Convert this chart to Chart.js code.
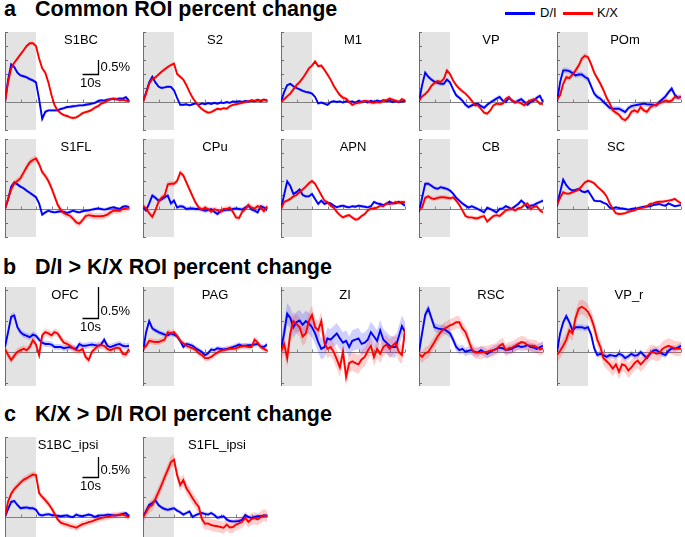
<!DOCTYPE html>
<html>
<head>
<meta charset="utf-8">
<script src="https://cdn.jsdelivr.net/npm/chart.js@4.4.1/dist/chart.umd.min.js"></script>
<style>
  body { margin: 0; background: #fff; }
  #fig { position: relative; width: 685px; height: 537px; overflow: hidden; font-family: "Liberation Sans", Arial, sans-serif; color: #000; }
  .head { position: absolute; font-weight: bold; font-size: 21.5px; line-height: 22px; white-space: nowrap; }
  .key { position: absolute; height: 3px; top: 12px; width: 30px; }
  .keytxt { position: absolute; top: 5px; font-size: 13px; line-height: 16px; }
</style>
</head>
<body>
<div id="fig">
  <div class="head" style="left:4px; top:-2px">a</div>
  <div class="head" style="left:35px; top:-2px">Common ROI percent change</div>
  <div class="head" style="left:3px; top:256px">b</div>
  <div class="head" style="left:35px; top:256px">D/I &gt; K/X ROI percent change</div>
  <div class="head" style="left:4px; top:403px">c</div>
  <div class="head" style="left:35px; top:403px">K/X &gt; D/I ROI percent change</div>
  <div class="key" style="left:505px; background:#0000ff"></div>
  <div class="keytxt" style="left:540px">D/I</div>
  <div class="key" style="left:563px; background:#ff0000"></div>
  <div class="keytxt" style="left:597px">K/X</div>
</div>
<script>
// time axis (s), sampled every 2 s
const time = [0, 2, 4, 6, 8, 10, 12, 14, 16, 18, 20, 22, 24, 26, 28, 30, 32, 34, 36, 38,
  40, 42, 44, 46, 48, 50, 52, 54, 56, 58, 60, 62, 64, 66, 68, 70, 72, 74, 76, 78, 80];
const xTicks = [10, 20, 30, 40, 50, 60, 70, 80];
const stimWindow = [0, 20];

const roiCommon = ['S1BC', 'S2', 'M1', 'VP', 'POm', 'S1FL', 'CPu', 'APN', 'CB', 'SC'];
const roiDI = ['OFC', 'PAG', 'ZI', 'RSC', 'VP_r'];
const roiKX = ['S1BC_ipsi', 'S1FL_ipsi'];

const yRangeA = [-1, 2.5], yTicksA = [-1, -0.5, 0, 0.5, 1, 1.5, 2, 2.5];
const yRangeB = [-0.55, 1.05], yTicksB = [-0.5, 0, 0.5, 1];
const yRangeC = [-0.5, 2.0], yTicksC = [-0.5, 0, 0.5, 1, 1.5, 2];

// percent change, D/I (blue) and K/X (red)
const S1BC_DI = [0, 0.8, 1.35, 1.25, 1.05, 0.95, 0.92, 0.88, 0.82, 0.77, 0.7, 0.1, -0.6, -0.35, -0.3, -0.3, -0.3, -0.3, -0.25, -0.22, -0.18, -0.17, -0.15, -0.14, -0.12, -0.12, -0.1, -0.08, -0.06, -0.03, 0.03, 0.06, 0.05, 0.08, 0.1, 0.12, 0.1, 0.13, 0.12, 0.17, 0.05];
const S1BC_KX = [0, 0.7, 1.2, 1.4, 1.55, 1.7, 1.85, 2.0, 2.1, 2.1, 2.0, 1.55, 1.2, 1.05, 0.7, 0.25, -0.12, -0.3, -0.4, -0.47, -0.5, -0.55, -0.57, -0.55, -0.48, -0.4, -0.36, -0.33, -0.28, -0.2, -0.15, -0.06, -0.02, 0.05, 0.1, 0.12, 0.1, 0.06, 0.08, 0.05, 0.02];
const S2_DI = [0, 0.35, 0.7, 0.9, 0.7, 0.55, 0.5, 0.52, 0.55, 0.54, 0.42, 0.15, -0.1, -0.1, -0.08, -0.12, -0.08, -0.05, -0.1, -0.05, -0.08, -0.04, -0.07, -0.03, -0.06, -0.02, -0.04, 0, -0.03, 0.02, 0, 0.03, 0, 0.04, 0.02, 0.05, 0.03, 0.08, 0.03, 0.08, 0.05];
const S2_KX = [0, 0.3, 0.65, 0.82, 0.88, 0.98, 1.08, 1.17, 1.25, 1.32, 1.37, 1.0, 0.9, 0.8, 0.6, 0.36, 0.15, 0, -0.15, -0.25, -0.33, -0.38, -0.36, -0.3, -0.24, -0.26, -0.22, -0.24, -0.15, -0.1, -0.08, -0.06, -0.03, 0, 0.02, 0.06, 0.04, 0.06, 0.05, 0.08, 0.06];
const M1_DI = [0, 0.35, 0.6, 0.65, 0.56, 0.5, 0.45, 0.4, 0.36, 0.34, 0.3, 0.18, -0.05, -0.02, -0.06, -0.1, 0, 0.03, 0, 0.02, -0.02, 0.03, 0, 0.02, -0.02, 0.04, 0, 0.03, -0.02, 0.04, 0, 0.05, 0.02, 0.06, 0.03, 0.05, 0, 0.03, 0, 0.02, 0.03];
const M1_KX = [0, 0.1, 0.2, 0.3, 0.45, 0.6, 0.71, 0.85, 1.02, 1.2, 1.3, 1.45, 1.28, 1.3, 1.15, 0.98, 0.8, 0.58, 0.4, 0.25, 0.15, 0.12, 0, -0.1, -0.05, -0.03, 0, 0.04, 0.03, -0.02, -0.03, 0, -0.02, 0.05, 0.06, 0.12, 0.08, 0.05, 0, 0.1, 0.05];
const VP_DI = [0, 0.6, 1.05, 0.9, 0.8, 0.72, 0.68, 0.65, 0.65, 0.8, 0.7, 0.45, 0.24, 0.15, 0.05, -0.1, -0.18, -0.12, -0.08, -0.06, -0.15, -0.21, -0.1, -0.02, 0.05, 0.12, 0.18, 0.05, 0, 0.15, 0.05, -0.02, 0.05, 0.1, 0, -0.1, 0, 0.05, 0.15, 0.22, 0];
const VP_KX = [0.05, 0.2, 0.28, 0.4, 0.58, 0.68, 0.75, 0.72, 0.82, 1.13, 1.0, 0.77, 0.6, 0.48, 0.38, 0.3, 0.18, 0.05, -0.12, -0.12, -0.25, -0.38, -0.42, -0.3, -0.12, -0.06, -0.08, -0.06, 0.12, 0.18, 0.05, 0, 0, -0.05, -0.12, 0, 0.06, 0.1, 0.05, -0.06, -0.06];
const POm_DI = [0, 0.71, 1.13, 1.13, 1.1, 1.03, 0.95, 0.98, 0.98, 0.89, 0.83, 0.57, 0.3, 0.18, 0.12, 0, -0.1, -0.21, -0.24, -0.24, -0.24, -0.3, -0.36, -0.22, -0.15, -0.12, -0.1, -0.08, -0.06, -0.08, -0.09, -0.1, -0.12, 0, 0.1, 0.2, 0.35, 0.48, 0.25, 0.15, 0.18];
const POm_KX = [0.1, 0.24, 0.65, 0.89, 0.85, 0.98, 1.13, 1.3, 1.55, 1.65, 1.6, 1.35, 1.05, 0.85, 0.65, 0.42, 0.15, -0.05, -0.3, -0.38, -0.45, -0.6, -0.65, -0.54, -0.35, -0.3, -0.36, -0.18, -0.3, -0.35, -0.2, -0.12, -0.1, -0.05, 0, 0.05, 0.02, 0.05, 0.18, 0.15, 0.18];
const S1FL_DI = [0, 0.35, 0.8, 0.95, 0.88, 0.8, 0.74, 0.65, 0.58, 0.5, 0.42, 0.2, -0.2, -0.12, -0.06, -0.1, -0.12, -0.1, -0.08, -0.1, -0.14, -0.1, -0.06, -0.1, -0.12, -0.08, -0.06, -0.05, -0.02, 0, 0.02, 0, -0.02, 0, 0.04, 0.06, 0.03, 0, 0.08, 0.1, 0.06];
const S1FL_KX = [0, 0.36, 0.7, 0.92, 1.0, 1.1, 1.3, 1.5, 1.67, 1.75, 1.8, 1.6, 1.32, 1.18, 1.0, 0.75, 0.45, 0.15, -0.03, -0.15, -0.2, -0.24, -0.35, -0.48, -0.52, -0.4, -0.25, -0.22, -0.24, -0.26, -0.26, -0.26, -0.24, -0.2, -0.12, -0.06, -0.06, -0.06, 0, 0.02, 0.06];
const CPu_DI = [0.05, -0.05, 0.2, 0.48, 0.4, 0.3, 0.34, 0.42, 0.48, 0.2, 0.3, 0.05, 0.1, 0.08, 0, 0.02, 0.02, 0, 0, -0.02, -0.06, -0.04, 0, -0.1, -0.18, -0.08, -0.05, -0.02, -0.03, 0, 0.02, 0, -0.02, 0.05, 0.12, -0.02, -0.06, -0.12, 0.1, 0.05, -0.05];
const CPu_KX = [0.12, 0.02, -0.15, -0.28, -0.05, 0.25, 0.4, 0.48, 0.88, 0.9, 0.9, 1.0, 1.3, 1.2, 0.95, 0.7, 0.45, 0.22, 0.05, -0.02, 0.05, 0, -0.1, 0, -0.05, -0.1, 0, 0, 0.05, -0.1, -0.3, -0.32, -0.1, 0, 0.15, 0.05, 0.02, 0.1, 0.05, -0.08, 0.1];
const APN_DI = [0, 0.5, 0.99, 0.82, 0.54, 0.6, 0.7, 0.5, 0.45, 0.45, 0.54, 0.36, 0.18, 0.3, 0.18, 0.22, 0.2, 0.12, 0.06, 0.1, 0.12, 0.08, 0.06, 0.1, 0.08, 0.12, 0.1, 0.08, 0.06, 0.1, 0.25, 0.2, 0.18, 0.14, 0.18, 0.26, 0.2, 0.2, 0.26, 0.2, 0.12];
const APN_KX = [0, 0.25, 0.3, 0.36, 0.45, 0.5, 0.6, 0.7, 0.8, 0.92, 1.0, 0.9, 0.7, 0.5, 0.3, 0.24, 0.12, 0.05, -0.1, -0.22, -0.3, -0.25, -0.22, -0.3, -0.38, -0.35, -0.25, -0.18, -0.05, 0.02, 0.02, 0.05, 0.12, 0.1, 0.2, 0.18, 0.2, 0.25, 0.22, 0.25, 0.24];
const CB_DI = [-0.1, 0.4, 0.9, 0.9, 0.83, 0.75, 0.72, 0.78, 0.75, 0.72, 0.66, 0.55, 0.4, 0.3, 0.2, 0.12, 0.05, 0.1, 0.05, 0, -0.06, -0.12, 0.05, 0, -0.06, -0.12, 0, 0.02, 0.1, 0.05, 0, 0.1, 0.18, 0.3, 0.2, 0.05, 0.12, 0.14, 0.2, 0.25, 0.3];
const CB_KX = [0, 0.05, 0.4, 0.45, 0.38, 0.36, 0.4, 0.42, 0.42, 0.4, 0.38, 0.42, 0.3, 0.15, -0.05, -0.25, -0.3, -0.3, -0.33, -0.33, -0.28, -0.25, -0.45, -0.35, -0.25, -0.22, -0.25, -0.15, -0.05, -0.02, 0, -0.05, 0.02, 0.05, 0.15, 0.2, 0, 0.08, 0.1, -0.05, -0.12];
const SC_DI = [0.1, 0.6, 1.05, 0.85, 0.72, 0.66, 0.68, 0.72, 0.63, 0.6, 0.65, 0.48, 0.3, 0.28, 0.28, 0.22, 0.18, 0.05, 0.02, 0.06, 0.03, 0.02, 0, -0.02, 0, 0.02, 0.03, 0.06, 0.08, 0.09, 0.1, 0.14, 0.16, 0.18, 0.14, 0.12, 0.2, 0.15, 0.1, 0.12, 0.14];
const SC_KX = [0.15, 0.4, 0.6, 0.55, 0.55, 0.6, 0.64, 0.7, 0.82, 0.95, 1.01, 0.98, 0.92, 0.8, 0.7, 0.6, 0.45, 0.2, 0, -0.15, -0.18, -0.17, -0.15, -0.1, -0.07, -0.05, 0, 0.03, 0.05, 0.1, 0.18, 0.2, 0.24, 0.26, 0.26, 0.28, 0.3, 0.32, 0.36, 0.28, 0.2];

const OFC_DI = [0.08, 0.32, 0.57, 0.59, 0.4, 0.32, 0.28, 0.26, 0.24, 0.28, 0.26, 0.2, 0.15, 0.13, 0.13, 0.12, 0.08, 0.08, 0.08, 0.06, 0.07, 0.08, 0.06, 0.05, 0.13, 0.1, 0.1, 0.11, 0.12, 0.11, 0.1, 0.12, 0.2, 0.1, 0.08, 0.1, 0.12, 0.13, 0.1, 0.09, 0.1];
const OFC_KX = [0.05, -0.05, -0.13, -0.06, 0, 0.03, 0.05, 0.03, 0.08, 0.19, 0.12, -0.05, 0.27, 0.32, 0.3, 0.27, 0.32, 0.3, 0.22, 0.15, 0.13, 0.1, 0.06, 0.03, 0.02, 0.05, -0.08, -0.13, 0, 0.05, 0.1, 0.11, 0.1, 0.05, 0.03, 0.05, 0.07, 0.06, -0.03, -0.04, 0.05];
const PAG_DI = [0, 0.32, 0.5, 0.38, 0.35, 0.32, 0.3, 0.28, 0.27, 0.3, 0.28, 0.25, 0.18, 0.08, 0.13, 0.12, 0.1, 0.06, 0.03, 0, -0.05, -0.02, 0.04, 0.03, 0.06, 0.05, 0.04, 0.05, 0.06, 0.08, 0.1, 0.12, 0.1, 0.1, 0.11, 0.11, 0.12, 0.13, 0.09, 0.08, 0.12];
const PAG_KX = [0.05, 0.1, 0.18, 0.17, 0.16, 0.16, 0.18, 0.2, 0.32, 0.3, 0.32, 0.26, 0.18, 0.14, 0.1, 0.08, 0.06, 0.03, -0.02, -0.05, -0.1, -0.1, -0.08, -0.04, -0.01, 0.02, 0.03, 0.04, 0.05, 0.05, 0.06, 0.08, 0.09, 0.1, 0.08, 0.08, 0.2, 0.15, 0.08, 0.05, 0.02];
const ZI_DI = [0.05, 0.3, 0.62, 0.55, 0.4, 0.48, 0.51, 0.44, 0.5, 0.46, 0.4, 0.3, 0.16, 0.05, 0.08, 0.22, 0.2, 0.25, 0.3, 0.22, 0.15, 0.18, 0.08, 0.18, 0.2, 0.22, 0.13, 0.15, 0.2, 0.32, 0.25, 0.18, 0.35, 0.2, 0.15, 0.1, 0.08, 0.08, 0.25, 0.42, 0.32];
const ZI_KX = [0, 0.13, -0.1, 0.3, 0.5, 0.45, 0.4, 0.25, 0.3, 0.5, 0.6, 0.4, 0.35, 0.5, 0.15, 0.05, 0.08, 0, -0.12, -0.25, 0, -0.4, -0.18, -0.15, -0.18, -0.2, -0.12, -0.08, 0.02, 0.1, -0.08, 0.05, -0.03, 0.08, 0.12, 0.05, 0.1, 0.15, 0, -0.05, 0.35];
const RSC_DI = [0, 0.3, 0.6, 0.7, 0.55, 0.4, 0.38, 0.37, 0.37, 0.34, 0.3, 0.2, 0.08, 0.03, 0.05, 0, 0.02, 0.03, 0, -0.01, 0.03, 0, -0.03, 0, 0.03, 0.05, 0.07, 0.06, 0.03, 0.04, 0.05, 0.08, 0.1, 0.08, 0.09, 0.11, 0.08, 0.07, 0.05, 0.08, 0.1];
const RSC_KX = [-0.03, -0.08, -0.02, 0, 0.08, 0.16, 0.25, 0.32, 0.37, 0.4, 0.43, 0.45, 0.48, 0.48, 0.38, 0.32, 0.19, 0.05, -0.01, -0.01, -0.01, 0, 0, 0.02, 0.03, 0.05, 0.1, 0.13, 0.03, 0.06, 0.07, 0.1, 0.13, 0.16, 0.15, 0.11, 0.1, 0.1, 0.08, 0.04, 0.06];
const VPr_DI = [0, 0.3, 0.48, 0.58, 0.48, 0.35, 0.4, 0.4, 0.4, 0.38, 0.4, 0.28, 0.06, -0.05, -0.03, -0.05, -0.08, -0.05, -0.06, -0.07, -0.03, -0.05, -0.1, -0.07, -0.03, -0.06, -0.05, 0, -0.05, -0.1, -0.03, 0.02, 0.03, 0, -0.03, -0.05, 0.02, 0.06, 0.05, 0.07, 0.1];
const VPr_KX = [-0.05, 0.02, 0.1, 0.2, 0.35, 0.3, 0.55, 0.7, 0.73, 0.7, 0.65, 0.55, 0.4, 0.2, 0.08, -0.1, -0.15, -0.2, -0.27, -0.2, -0.32, -0.2, -0.22, -0.3, -0.25, -0.18, -0.14, -0.2, -0.15, -0.08, -0.02, 0, -0.03, -0.02, 0.05, 0.08, 0.1, 0.08, 0.06, 0.05, 0.05];

const S1BCi_DI = [0, 0.2, 0.38, 0.4, 0.3, 0.22, 0.23, 0.24, 0.22, 0.22, 0.18, 0.06, 0.04, 0.06, 0.07, 0.05, 0.04, 0.03, 0.02, 0.03, 0.04, 0.01, 0, 0.06, 0.03, 0.02, 0.04, 0.06, 0.04, 0, 0.03, 0.04, 0.04, 0.06, 0.05, 0.04, 0.04, 0.06, 0.08, 0.1, 0.02];
const S1BCi_KX = [0, 0.39, 0.58, 0.7, 0.78, 0.86, 0.93, 0.97, 1.02, 1.06, 1.05, 0.6, 0.5, 0.42, 0.33, 0.22, 0.08, -0.06, -0.14, -0.17, -0.19, -0.22, -0.24, -0.27, -0.22, -0.18, -0.16, -0.13, -0.11, -0.08, -0.05, -0.03, -0.01, 0, 0.02, 0.04, 0.04, 0.05, 0.06, 0.03, 0];
const S1FLi_DI = [0, 0.15, 0.3, 0.35, 0.42, 0.3, 0.24, 0.2, 0.18, 0.2, 0.22, 0.16, 0.12, 0.06, 0.1, 0.14, 0, 0.05, 0.08, 0.1, 0.08, 0.06, 0.1, 0.05, -0.02, 0, 0.02, -0.06, -0.1, -0.11, -0.11, -0.1, -0.07, 0.05, 0, -0.02, 0, 0.02, 0.02, 0.03, 0.04];
const S1FLi_KX = [0, 0.12, 0.25, 0.3, 0.45, 0.62, 0.8, 1.0, 1.18, 1.37, 1.43, 1.05, 0.8, 0.92, 0.72, 0.6, 0.47, 0.35, 0.25, -0.05, -0.17, -0.16, -0.2, -0.22, -0.23, -0.25, -0.27, -0.19, -0.26, -0.25, -0.19, -0.16, -0.12, -0.02, -0.12, -0.05, -0.03, -0.06, 0, 0.05, 0.02];

// half-width of the shaded error band (%), one per ROI in list order
const semDI_common = [0.06, 0.05, 0.05, 0.08, 0.1, 0.06, 0.08, 0.06, 0.07, 0.05];
const semKX_common = [0.06, 0.06, 0.07, 0.07, 0.1, 0.12, 0.1, 0.07, 0.08, 0.06];
const semDI_di = [0.05, 0.04, 0.17, 0.07, 0.05];
const semKX_di = [0.06, 0.05, 0.15, 0.1, 0.12];
const semDI_kx = [0.05, 0.05];
const semKX_kx = [0.08, 0.15];

const seriesDI = {S1BC: S1BC_DI, S2: S2_DI, M1: M1_DI, VP: VP_DI, POm: POm_DI, S1FL: S1FL_DI, CPu: CPu_DI, APN: APN_DI, CB: CB_DI, SC: SC_DI,
  OFC: OFC_DI, PAG: PAG_DI, ZI: ZI_DI, RSC: RSC_DI, VP_r: VPr_DI, S1BC_ipsi: S1BCi_DI, S1FL_ipsi: S1FLi_DI};
const seriesKX = {S1BC: S1BC_KX, S2: S2_KX, M1: M1_KX, VP: VP_KX, POm: POm_KX, S1FL: S1FL_KX, CPu: CPu_KX, APN: APN_KX, CB: CB_KX, SC: SC_KX,
  OFC: OFC_KX, PAG: PAG_KX, ZI: ZI_KX, RSC: RSC_KX, VP_r: VPr_KX, S1BC_ipsi: S1BCi_KX, S1FL_ipsi: S1FLi_KX};

// layout
const PAD = 4, PLOT_W = 124;
const colX = [5, 143, 281, 419, 557];
const rowA1 = {top: 32, h: 98}, rowA2 = {top: 139, h: 98}, rowB = {top: 287, h: 99}, rowC = {top: 437, h: 100};
const titleDx = {S1BC: 76, S1FL: 71, SC: 59, POm: 68, OFC: 60, ZI: 64, S1BC_ipsi: 63, S1FL_ipsi: 74};
const BLUE = '#0000ff', RED = '#ff0000';
const BAND_BLUE = 'rgba(40, 40, 255, 0.22)', BAND_RED = 'rgba(255, 40, 40, 0.22)';
const FONT = '13px "Liberation Sans", Arial, sans-serif';

const panelDecor = {
    id: 'panelDecor',
    beforeDatasetsDraw(chart, args, o) {
        const {ctx, chartArea: a, scales: {x, y}} = chart;
        ctx.save();
        const gx0 = x.getPixelForValue(stimWindow[0]), gx1 = x.getPixelForValue(stimWindow[1]);
        ctx.fillStyle = '#e3e3e3';
        ctx.fillRect(gx0, a.top, gx1 - gx0, a.bottom - a.top);

        ctx.strokeStyle = '#6e6e6e';
        ctx.lineWidth = 1;
        ctx.beginPath();
        ctx.moveTo(a.left + 0.5, a.top);
        ctx.lineTo(a.left + 0.5, a.bottom);
        o.yTicks.forEach(v => {
            const py = Math.round(y.getPixelForValue(v)) + 0.5;
            ctx.moveTo(a.left, py);
            ctx.lineTo(a.left + 3, py);
        });
        ctx.stroke();

        const y0 = Math.round(y.getPixelForValue(0)) + 0.5;
        ctx.strokeStyle = '#808080';
        ctx.beginPath();
        ctx.moveTo(a.left, y0);
        ctx.lineTo(a.right, y0);
        xTicks.forEach(t => {
            const px = Math.round(x.getPixelForValue(t)) + 0.5;
            ctx.moveTo(px, y0);
            ctx.lineTo(px, y0 - 3);
        });
        ctx.stroke();
        ctx.restore();
    },
    afterDatasetsDraw(chart, args, o) {
        const {ctx, chartArea: a, scales: {x, y}} = chart;
        ctx.save();
        ctx.fillStyle = '#000';
        ctx.font = FONT;
        ctx.textAlign = 'center';
        ctx.textBaseline = 'middle';
        ctx.fillText(o.title, a.left + o.titleDx, a.top + 8);

        if (o.barBase !== null) {
            const bx0 = x.getPixelForValue(50), bx1 = Math.round(x.getPixelForValue(60)) + 0.5;
            const by0 = Math.round(y.getPixelForValue(o.barBase)) + 0.5, by1 = y.getPixelForValue(o.barBase + 0.5);
            ctx.strokeStyle = '#000';
            ctx.lineWidth = 1.3;
            ctx.beginPath();
            ctx.moveTo(bx0, by0);
            ctx.lineTo(bx1, by0);
            ctx.lineTo(bx1, by1);
            ctx.stroke();
            ctx.textAlign = 'left';
            ctx.fillText('0.5%', bx1 + 2, by0 - 7);
            ctx.textAlign = 'center';
            ctx.fillText('10s', (bx0 + bx1) / 2, by0 + 9);
        }
        ctx.restore();
    }
};

function band(arr, d) {
    return time.map((t, i) => ({x: t, y: arr[i] + d}));
}

function makePanel(name, col, row, semD, semK, range, yTicks, barBase) {
    const fig = document.getElementById('fig');
    const cv = document.createElement('canvas');
    const w = PLOT_W + 2 * PAD, h = row.h + 2 * PAD;
    cv.width = w;
    cv.height = h;
    cv.style.cssText = `position:absolute;left:${colX[col] - PAD}px;top:${row.top - PAD}px;width:${w}px;height:${h}px`;
    fig.appendChild(cv);

    const di = seriesDI[name], kx = seriesKX[name];
    const hidden = {borderWidth: 0, borderColor: 'transparent', pointRadius: 0};
    new Chart(cv, {
        type: 'line',
        data: {
            datasets: [
                {...hidden, data: band(di, semD), fill: '+1', backgroundColor: BAND_BLUE, order: 5},
                {...hidden, data: band(di, -semD), fill: false, order: 4},
                {...hidden, data: band(kx, semK), fill: '+1', backgroundColor: BAND_RED, order: 3},
                {...hidden, data: band(kx, -semK), fill: false, order: 2},
                {label: 'D/I', data: band(di, 0), borderColor: BLUE, borderWidth: 1.9, pointRadius: 0, fill: false, order: 1},
                {label: 'K/X', data: band(kx, 0), borderColor: RED, borderWidth: 1.9, pointRadius: 0, fill: false, order: 0}
            ]
        },
        options: {
            responsive: false,
            animation: false,
            layout: {padding: PAD},
            elements: {line: {tension: 0}},
            scales: {
                x: {type: 'linear', display: false, min: 0, max: 80},
                y: {display: false, min: range[0], max: range[1]}
            },
            plugins: {
                legend: {display: false},
                tooltip: {enabled: false},
                panelDecor: {title: name, titleDx: titleDx[name] ?? 72, yTicks: yTicks, barBase: barBase}
            }
        },
        plugins: [panelDecor]
    });
}

roiCommon.forEach((name, i) => {
    const row = i < 5 ? rowA1 : rowA2;
    makePanel(name, i % 5, row, semDI_common[i], semKX_common[i], yRangeA, yTicksA, i === 0 ? 1.0 : null);
});
roiDI.forEach((name, i) => {
    makePanel(name, i, rowB, semDI_di[i], semKX_di[i], yRangeB, yTicksB, i === 0 ? 0.55 : null);
});
roiKX.forEach((name, i) => {
    makePanel(name, i, rowC, semDI_kx[i], semKX_kx[i], yRangeC, yTicksC, i === 0 ? 1.0 : null);
});
</script>
</body>
</html>
